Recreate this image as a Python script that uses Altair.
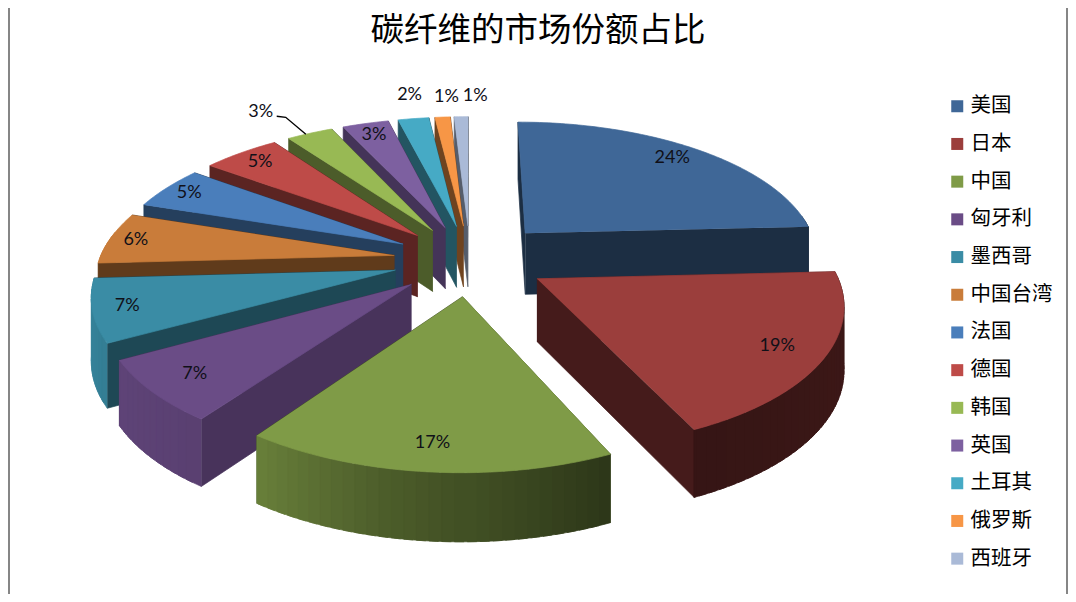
import math
import numpy as np
import pandas as pd
import altair as alt

TITLE = "碳纤维的市场份额占比"
countries = ["美国", "日本", "中国", "匈牙利", "墨西哥", "中国台湾", "法国", "德国", "韩国", "英国", "土耳其", "俄罗斯", "西班牙"]
shares = [24.2, 19, 16.6, 7.1, 7.2, 6, 5, 5, 3, 3, 2, 1, .9]
top_colors = ["#3F6797", "#9B3E3C", "#7F9B47", "#6A4C86", "#3A8CA5", "#C97C3A", "#4A7EBB", "#BE4B48", "#98B954", "#7D60A0", "#46AAC5", "#F79646", "#AABAD7"]
cut_shade = [.45, .45, .5, .68, .52, .48, .5, .48, .5, .55, .5, .45, .5]
label_radius = [.87, .85, .86, .85, .89, .91, .9, .88, 1.3, .88, 1.25, 1.22, 1.22]
label_turn = [-1.5, 0, 0, 0, 0, 0, 0, 0, -3.5, 0, 1, 1.5, 3]
explode = [.28, .26, .26, .26, .26, .26, .26, .26, .26, .26, .26, .26, .26]

# view of the tilted pie
CX, CY, RX, RY, K, DEPTH = 470, 260, 295, 136, .155, 62
FONT = "Noto Sans CJK SC"


def project(X, Y, z=0.0):
    w = 1 / (1 + K * Y)
    return CX + RX * X * w, CY - RY * Y * w + z * DEPTH * w ** .5


def shade(hex_color, f):
    rgb = [int(hex_color[i:i + 2], 16) for i in (1, 3, 5)]
    return "#" + "".join(f"{int(min(255, c * f)):02x}" for c in rgb)


def wall_shade(deg):
    return float(np.interp(deg % 360, [0, 90, 120, 155, 190, 216, 241, 270, 360],
                           [.4, .4, .38, .35, .6, .85, .9, 1, 1]))


total = sum(shares)
starts = np.cumsum([0] + shares[:-1]) / total * 360
slices = []
for i, s in enumerate(shares):
    a0 = float(starts[i])
    a1 = a0 + s / total * 360
    mid = math.radians((a0 + a1) / 2)
    slices.append((i, a0, a1, explode[i] * math.sin(mid), explode[i] * math.cos(mid)))

rows = []
pid = 0


def add_poly(pts, fill):
    global pid
    pid += 1
    for j, (x, y) in enumerate(pts):
        rows.append({"pid": pid, "o": j, "x": round(x, 2), "y": round(y, 2), "fill": fill})


for i, a0, a1, ox, oy in sorted(slices, key=lambda t: -t[4]):
    col = top_colors[i]
    angles = np.arange(a0, a1, 1.0).tolist() + [a1]
    pt3 = lambda a: (ox + math.sin(math.radians(a)), oy + math.cos(math.radians(a)))
    faces = []
    # outer wall, in overlapping strips so no seams show
    wall = np.arange(a0, a1, 2.0).tolist() + [a1]
    for a, a_next in zip(wall[:-1], wall[1:]):
        n = (a + a_next) / 2
        if math.cos(math.radians(n)) < 0.15:
            tail = min(a_next + 1.5, a1)
            arc = [pt3(b) for b in np.linspace(a, tail, 4)]
            pts = [project(*p) for p in arc] + [project(*p, 1) for p in reversed(arc)]
            faces.append(((arc[0][1] + arc[-1][1]) / 2, pts, shade(col, wall_shade(n))))
    # the two cut faces
    for a in (a0, a1):
        p = pt3(a)
        faces.append(((p[1] + oy) / 2,
                      [project(ox, oy), project(*p), project(*p, 1), project(ox, oy, 1)],
                      shade(col, cut_shade[i])))
    for _, pts, fill in sorted(faces, key=lambda f: -f[0]):
        add_poly(pts, fill)
    add_poly([project(ox, oy)] + [project(*pt3(a)) for a in angles], col)

polys = pd.DataFrame(rows)

labels = []
for (i, a0, a1, ox, oy), r, t in zip(slices, label_radius, label_turn):
    m = math.radians((a0 + a1) / 2 + t)
    x, y = project(ox + r * math.sin(m), oy + r * math.cos(m))
    labels.append({"x": x, "y": y, "t": f"{round(shares[i])}%"})
labels = pd.DataFrame(labels)

# leader line of the 韩国 label
i9, a0, a1, ox, oy = slices[8]
m = math.radians((a0 + a1) / 2 - 1)
rim = project(ox + math.sin(m), oy + math.cos(m))
lx, ly = labels.loc[8, "x"], labels.loc[8, "y"]
leader = pd.DataFrame([
    {"o": 0, "x": lx + 16, "y": ly + 4},
    {"o": 1, "x": lx + 25, "y": ly + 5},
    {"o": 2, "x": rim[0], "y": rim[1]},
])

xs = alt.Scale(domain=[8, 1068], nice=False, zero=False)
ys = alt.Scale(domain=[594, 8], nice=False, zero=False)
X = alt.X("x:Q", scale=xs, axis=None)
Y = alt.Y("y:Q", scale=ys, axis=None)

pie = alt.Chart(polys).mark_line(filled=True, strokeWidth=.7, interpolate="linear").encode(
    x=X, y=Y, order="o:Q", detail="pid:N",
    color=alt.Color("fill:N", scale=None, legend=None),
    stroke=alt.Stroke("fill:N", scale=None, legend=None),
)
lead = alt.Chart(leader).mark_line(color="#000000", strokeWidth=1.4).encode(x=X, y=Y, order="o:Q")
texts = alt.Chart(labels).mark_text(font="Lato", fontSize=18, color="#101018").encode(x=X, y=Y, text="t:N")

title_df = pd.DataFrame({"x": [538], "y": [41], "t": [TITLE]})
title = alt.Chart(title_df).mark_text(font=FONT, fontSize=33.5, color="#000000", baseline="alphabetic").encode(x=X, y=Y, text="t:N")

frame = alt.Chart(pd.DataFrame({"x": [9, 1067]})).mark_rule(color="#868686", strokeWidth=2).encode(
    x=alt.X("x:Q", scale=xs, axis=None), y=alt.value(0), y2=alt.value(586))

legend_data = pd.DataFrame({"name": countries})
legend_layer = alt.Chart(legend_data).mark_square(opacity=0, size=144).encode(
    x=alt.value(0), y=alt.value(0),
    fill=alt.Fill("name:N", sort=None, scale=alt.Scale(domain=countries, range=top_colors),
                  legend=alt.Legend(title=None, orient="none", legendX=939, legendY=88,
                                    symbolType="square", symbolSize=144, symbolOpacity=1,
                                    symbolStrokeWidth=0, labelFont=FONT, labelFontSize=20.5,
                                    labelColor="#000000", rowPadding=16.7, labelOffset=3,
                                    labelLimit=120)),
)

chart = alt.layer(frame, pie, lead, texts, title, legend_layer).resolve_scale(color="independent", fill="independent", stroke="independent").properties(
    width=1060, height=586,
    padding=0,
    autosize=alt.AutoSizeParams(type="none"),
).configure_view(stroke=None)

chart.save("out.html", embed_options={"renderer": "svg", "actions": False})
